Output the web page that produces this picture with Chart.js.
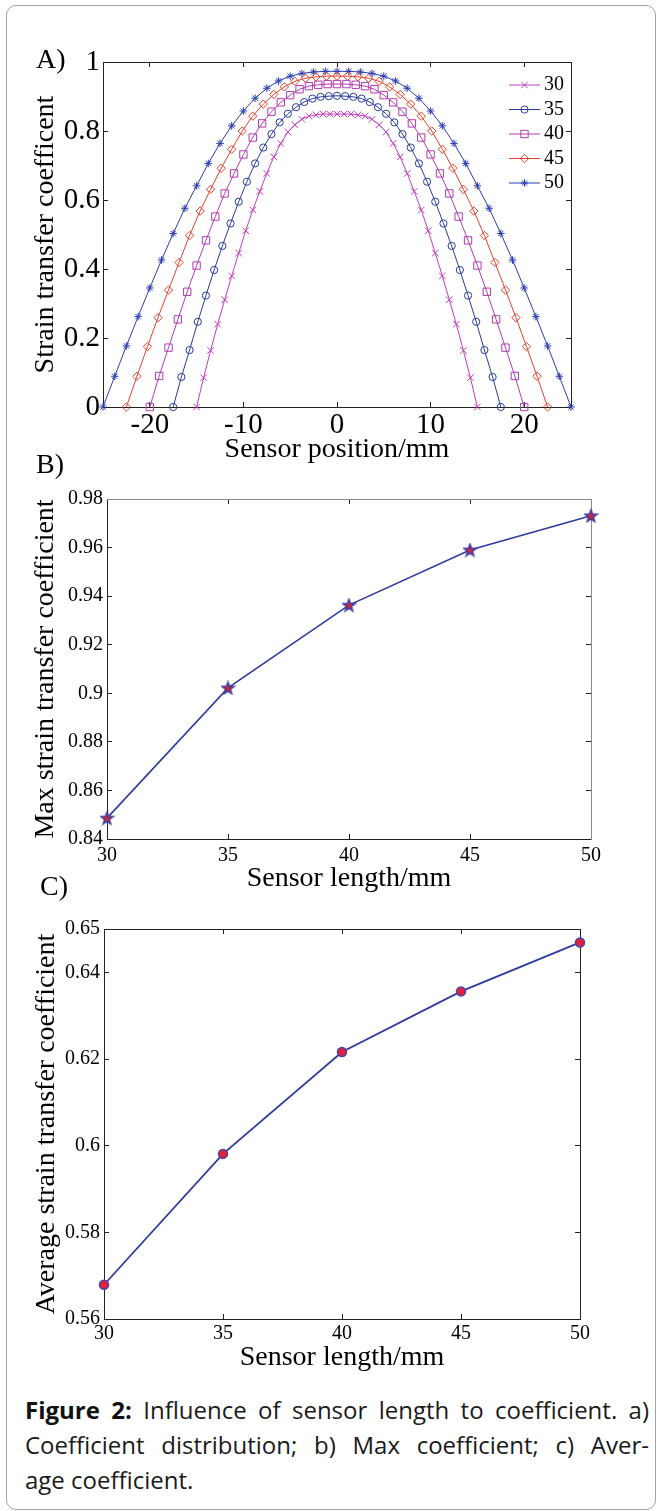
<!DOCTYPE html>
<html>
<head>
<meta charset="utf-8">
<script src="https://cdn.jsdelivr.net/npm/chart.js@4.4.1/dist/chart.umd.min.js"></script>
<style>
html,body{margin:0;padding:0;background:#fff;}
body{width:662px;height:1511px;position:relative;overflow:hidden;}
.frame{position:absolute;left:6px;top:5px;width:650px;height:1505px;border:1.5px solid #a3a3a3;border-radius:10px;box-sizing:border-box;}
.box{position:absolute;left:0;width:662px;}
.box canvas{display:block;}
.plabel{position:absolute;font-family:"Liberation Serif","Times New Roman",serif;font-size:28px;line-height:28px;color:#000;}
.caption{position:absolute;left:25px;top:1392px;width:624px;font-family:"Open Sans",Lato,sans-serif;font-size:24px;line-height:35px;color:#1a1a1a;}
.caption .j{white-space:nowrap;}
.caption b{color:#111;font-weight:700;}
</style>
</head>
<body>
<div class="frame"></div>
<div class="box" style="top:0;height:470px"><canvas id="chartA" width="662" height="470"></canvas></div>
<div class="box" style="top:440px;height:460px"><canvas id="chartB" width="662" height="460"></canvas></div>
<div class="box" style="top:890px;height:490px"><canvas id="chartC" width="662" height="490"></canvas></div>
<div class="plabel" style="left:36px;top:45px">A)</div>
<div class="plabel" style="left:36px;top:450px">B)</div>
<div class="plabel" style="left:40px;top:872px">C)</div>
<div class="caption">
  <div class="j"><span><b>Figure 2:</b> Influence of sensor length to coefficient. a)</span></div>
  <div class="j"><span>Coefficient distribution; b) Max coefficient; c) Aver-</span></div>
  <div>age coefficient.</div>
</div>
<script>
// ---------- Panel A data ----------
const seriesNamesA = ['30', '35', '40', '45', '50'];
const x30 = [-15,-14.25,-13.5,-12.75,-12,-11.25,-10.5,-9.75,-9,-8.25,-7.5,-6.75,-6,-5.25,-4.5,-3.75,-3,-2.25,-1.5,-0.75,0,0.75,1.5,2.25,3,3.75,4.5,5.25,6,6.75,7.5,8.25,9,9.75,10.5,11.25,12,12.75,13.5,14.25,15];
const y30 = [0,0.085,0.164,0.240,0.311,0.380,0.446,0.511,0.571,0.625,0.677,0.725,0.764,0.797,0.818,0.834,0.843,0.847,0.849,0.849,0.849,0.849,0.849,0.847,0.843,0.834,0.818,0.797,0.764,0.725,0.677,0.625,0.571,0.511,0.446,0.380,0.311,0.240,0.164,0.085,0];
const x35 = [-17.5,-16.625,-15.75,-14.875,-14,-13.125,-12.25,-11.375,-10.5,-9.625,-8.75,-7.875,-7,-6.125,-5.25,-4.375,-3.5,-2.625,-1.75,-0.875,0,0.875,1.75,2.625,3.5,4.375,5.25,6.125,7,7.875,8.75,9.625,10.5,11.375,12.25,13.125,14,14.875,15.75,16.625,17.5];
const y35 = [0,0.087,0.165,0.247,0.323,0.397,0.467,0.532,0.595,0.653,0.706,0.752,0.791,0.825,0.850,0.869,0.884,0.894,0.899,0.901,0.902,0.901,0.899,0.894,0.884,0.869,0.850,0.825,0.791,0.752,0.706,0.653,0.595,0.532,0.467,0.397,0.323,0.247,0.165,0.087,0];
const x40 = [-20,-19,-18,-17,-16,-15,-14,-13,-12,-11,-10,-9,-8,-7,-6,-5,-4,-3,-2,-1,0,1,2,3,4,5,6,7,8,9,10,11,12,13,14,15,16,17,18,19,20];
const y40 = [0,0.090,0.172,0.254,0.334,0.410,0.483,0.552,0.619,0.677,0.732,0.781,0.822,0.856,0.883,0.904,0.921,0.930,0.934,0.936,0.936,0.936,0.934,0.930,0.921,0.904,0.883,0.856,0.822,0.781,0.732,0.677,0.619,0.552,0.483,0.410,0.334,0.254,0.172,0.090,0];
const x45 = [-22.5,-21.375,-20.25,-19.125,-18,-16.875,-15.75,-14.625,-13.5,-12.375,-11.25,-10.125,-9,-7.875,-6.75,-5.625,-4.5,-3.375,-2.25,-1.125,0,1.125,2.25,3.375,4.5,5.625,6.75,7.875,9,10.125,11.25,12.375,13.5,14.625,15.75,16.875,18,19.125,20.25,21.375,22.5];
const y45 = [0,0.089,0.175,0.259,0.339,0.419,0.497,0.568,0.631,0.692,0.747,0.800,0.843,0.878,0.906,0.928,0.944,0.953,0.957,0.959,0.959,0.959,0.957,0.953,0.944,0.928,0.906,0.878,0.843,0.800,0.747,0.692,0.631,0.568,0.497,0.419,0.339,0.259,0.175,0.089,0];
const x50 = [-25,-23.75,-22.5,-21.25,-20,-18.75,-17.5,-16.25,-15,-13.75,-12.5,-11.25,-10,-8.75,-7.5,-6.25,-5,-3.75,-2.5,-1.25,0,1.25,2.5,3.75,5,6.25,7.5,8.75,10,11.25,12.5,13.75,15,16.25,17.5,18.75,20,21.25,22.5,23.75,25];
const y50 = [0,0.089,0.177,0.262,0.345,0.426,0.503,0.576,0.641,0.706,0.764,0.815,0.858,0.895,0.924,0.945,0.959,0.967,0.971,0.973,0.973,0.973,0.971,0.967,0.959,0.945,0.924,0.895,0.858,0.815,0.764,0.706,0.641,0.576,0.503,0.426,0.345,0.262,0.177,0.089,0];
const xTicksA = [-20, -10, 0, 10, 20];
const xTickLabelsA = ['-20', '-10', '0', '10', '20'];
const yTicksA = [0, 0.2, 0.4, 0.6, 0.8, 1];
const yTickLabelsA = ['0', '0.2', '0.4', '0.6', '0.8', '1'];

// ---------- Panels B and C data ----------
const sensorLengths = [30, 35, 40, 45, 50];
const maxCoef = [0.8486, 0.9022, 0.9363, 0.9590, 0.9731];
const avgCoef = [0.5679, 0.5981, 0.6216, 0.6356, 0.6469];
const xTicksBC = [30, 35, 40, 45, 50];
const xTickLabelsBC = ['30', '35', '40', '45', '50'];
const yTicksB = [0.84, 0.86, 0.88, 0.9, 0.92, 0.94, 0.96, 0.98];
const yTickLabelsB = ['0.84', '0.86', '0.88', '0.9', '0.92', '0.94', '0.96', '0.98'];
const yTicksC = [0.56, 0.58, 0.6, 0.62, 0.64, 0.65];
const yTickLabelsC = ['0.56', '0.58', '0.6', '0.62', '0.64', '0.65'];

// ---------- helpers ----------
const SERIF = "'Liberation Serif', 'Times New Roman', serif";
const fixedTicks = (vals) => (scale) => { scale.ticks = vals.map(v => ({ value: v })); };
const toPts = (xs, ys) => xs.map((x, i) => ({ x: x, y: ys[i] }));

function axisPair(opts) {
  const common = {
    type: 'linear', min: opts.min, max: opts.max,
    afterBuildTicks: fixedTicks(opts.ticks),
    grid: { display: true, drawOnChartArea: false, drawTicks: true, tickLength: -5, color: opts.tickColor || '#222', lineWidth: 1 }
  };
  const main = Object.assign({}, common, {
    axis: opts.axis, position: opts.position,
    afterFit: opts.afterFit,
    border: { display: true, color: opts.borderColor || '#222', width: 1 },
    ticks: { display: true, autoSkip: false, maxRotation: 0, minRotation: 0, color: '#000',
      padding: opts.tickPad, font: { family: SERIF, size: opts.tickSize, lineHeight: 1 },
      callback: (v, i) => opts.labels[i] },
    title: { display: true, text: opts.title, color: '#000',
      font: { family: SERIF, size: 28, lineHeight: 1 }, padding: opts.titlePad }
  });
  const mirror = Object.assign({}, common, {
    axis: opts.axis, position: opts.mirrorPos,
    afterFit: (s) => { if (opts.axis === 'x') s.height = 0; else s.width = 0; },
    border: { display: true, color: opts.mirrorBorder || opts.borderColor || '#222', width: 1 },
    ticks: { display: false },
    title: { display: false }
  });
  return [main, mirror];
}

const insideLegend = {
  id: 'insideLegend',
  afterDatasetsDraw(chart, args, o) {
    if (!o || !o.enabled) return;
    const { ctx, chartArea } = chart;
    ctx.save();
    chart.data.datasets.forEach((ds, i) => {
      const y = chartArea.top + o.top + i * o.spacing;
      const x0 = chartArea.right - o.fromRight;
      ctx.strokeStyle = ds.borderColor;
      ctx.lineWidth = 1;
      ctx.beginPath(); ctx.moveTo(x0, y); ctx.lineTo(x0 + o.lineLen, y); ctx.stroke();
      ctx.fillStyle = 'rgba(0,0,0,0)';
      Chart.helpers.drawPoint(ctx, { pointStyle: ds.pointStyle, radius: ds.pointRadius, rotation: 0, borderWidth: 1 }, x0 + o.lineLen / 2, y);
      ctx.fillStyle = '#000';
      ctx.font = o.fontSize + 'px ' + SERIF;
      ctx.textBaseline = 'middle';
      ctx.textAlign = 'left';
      ctx.fillText(ds.label, x0 + o.lineLen + 4, y);
    });
    ctx.restore();
  }
};
Chart.register(insideLegend);

// ---------- Chart A ----------
const colorsA = ['#c23cc2', '#2a3a9c', '#b23ab2', '#e2402c', '#2c3cb2'];
const stylesA = ['crossRot', 'circle', 'rect', 'rectRot', 'star'];
const radiiA = [4.6, 3.6, 5.2, 4.2, 3.8];
const xsA = [x30, x35, x40, x45, x50];
const ysA = [y30, y35, y40, y45, y50];

const [axA, axA2] = axisPair({ axis: 'x', position: 'bottom', mirrorPos: 'top', min: -25, max: 25,
  ticks: xTicksA, labels: xTickLabelsA, tickSize: 29, tickPad: 9, title: 'Sensor position/mm',
  titlePad: { top: 0, bottom: 6 }, afterFit: (s) => { s.height = 63; } });
const [ayA, ayA2] = axisPair({ axis: 'y', position: 'left', mirrorPos: 'right', min: 0, max: 1,
  ticks: yTicksA, labels: yTickLabelsA, tickSize: 29, tickPad: 8, title: 'Strain transfer coefficent',
  titlePad: { top: 32, bottom: 0 }, afterFit: (s) => { s.width = 103; } });

new Chart(document.getElementById('chartA'), {
  type: 'line',
  data: {
    datasets: seriesNamesA.map((name, k) => ({
      label: name,
      data: toPts(xsA[k], ysA[k]),
      borderColor: colorsA[k], borderWidth: 1,
      pointStyle: stylesA[k], pointRadius: radiiA[k],
      pointBorderColor: colorsA[k], pointBackgroundColor: 'rgba(0,0,0,0)', pointBorderWidth: 1,
      tension: 0, clip: false, xAxisID: 'x', yAxisID: 'y'
    }))
  },
  options: {
    responsive: false, animation: false, events: [],
    layout: { padding: { left: 0, top: 62, right: 91, bottom: 0 } },
    plugins: { legend: { display: false }, tooltip: { enabled: false },
      insideLegend: { enabled: true, top: 23, spacing: 24.5, fromRight: 62, lineLen: 31, fontSize: 20 } },
    scales: { x: axA, y: ayA, x2: axA2, y2: ayA2 }
  }
});

// ---------- pentagram marker glyph for panel B ----------
function pentagram(fill, stroke) {
  const c = document.createElement('canvas');
  c.width = 15; c.height = 15;
  const g = c.getContext('2d');
  g.beginPath();
  for (let k = 0; k < 10; k++) {
    const r = (k % 2) ? 2.7 : 6.6;
    const a = -Math.PI / 2 + k * Math.PI / 5;
    const px = 7.5 + r * Math.cos(a), py = 8 + r * Math.sin(a);
    if (k === 0) g.moveTo(px, py); else g.lineTo(px, py);
  }
  g.closePath();
  g.fillStyle = fill; g.fill();
  g.strokeStyle = stroke; g.lineWidth = 1.3; g.stroke();
  return c;
}

// ---------- Chart B ----------
const [axB, axB2] = axisPair({ axis: 'x', position: 'bottom', mirrorPos: 'top', min: 30, max: 50,
  ticks: xTicksBC, labels: xTickLabelsBC, tickSize: 20, tickPad: 12, title: 'Sensor length/mm',
  titlePad: { top: 0, bottom: 7 }, afterFit: (s) => { s.height = 61; }, mirrorBorder: '#8a8a8a' });
const [ayB, ayB2] = axisPair({ axis: 'y', position: 'left', mirrorPos: 'right', min: 0.84, max: 0.98,
  ticks: yTicksB, labels: yTickLabelsB, tickSize: 20, tickPad: 9, title: 'Max strain transfer coefficient',
  titlePad: { top: 32, bottom: 0 }, afterFit: (s) => { s.width = 107; }, mirrorBorder: '#8a8a8a' });

new Chart(document.getElementById('chartB'), {
  type: 'line',
  data: {
    datasets: [{
      label: 'Max coefficient',
      data: toPts(sensorLengths, maxCoef),
      borderColor: '#2f3c9e', borderWidth: 1.6,
      pointStyle: pentagram('#c8283e', '#2f3aa8'), pointRadius: 6,
      tension: 0, clip: false, xAxisID: 'x', yAxisID: 'y'
    }]
  },
  options: {
    responsive: false, animation: false, events: [],
    layout: { padding: { left: 0, top: 59, right: 71, bottom: 0 } },
    plugins: { legend: { display: false }, tooltip: { enabled: false } },
    scales: { x: axB, y: ayB, x2: axB2, y2: ayB2 }
  }
});

// ---------- Chart C ----------
const [axC, axC2] = axisPair({ axis: 'x', position: 'bottom', mirrorPos: 'top', min: 30, max: 50,
  ticks: xTicksBC, labels: xTickLabelsBC, tickSize: 20, tickPad: 10, title: 'Sensor length/mm',
  titlePad: { top: 0, bottom: 8 }, afterFit: (s) => { s.height = 61; } });
const [ayC, ayC2] = axisPair({ axis: 'y', position: 'left', mirrorPos: 'right', min: 0.56, max: 0.65,
  ticks: yTicksC, labels: yTickLabelsC, tickSize: 20, tickPad: 9, title: 'Average strain transfer coefficient',
  titlePad: { top: 33, bottom: 0 }, afterFit: (s) => { s.width = 104; } });

new Chart(document.getElementById('chartC'), {
  type: 'line',
  data: {
    datasets: [{
      label: 'Average coefficient',
      data: toPts(sensorLengths, avgCoef),
      borderColor: '#2f3c9e', borderWidth: 1.8,
      pointStyle: 'circle', pointRadius: 4.5,
      pointBackgroundColor: '#e2203c', pointBorderColor: '#4444aa', pointBorderWidth: 1.5,
      tension: 0, clip: false, xAxisID: 'x', yAxisID: 'y'
    }]
  },
  options: {
    responsive: false, animation: false, events: [],
    layout: { padding: { left: 0, top: 39, right: 82, bottom: 0 } },
    plugins: { legend: { display: false }, tooltip: { enabled: false } },
    scales: { x: axC, y: ayC, x2: axC2, y2: ayC2 }
  }
});

// ---------- caption line justification (fit each full line to the caption width) ----------
(function fitCaption() {
  const target = 624;
  document.querySelectorAll('.caption .j').forEach(line => {
    const span = line.firstElementChild;
    const natural = span.getBoundingClientRect().width;
    const gaps = (span.textContent.match(/ /g) || []).length;
    if (gaps > 0) line.style.wordSpacing = ((target - natural) / gaps).toFixed(2) + 'px';
  });
})();
</script>
</body>
</html>
